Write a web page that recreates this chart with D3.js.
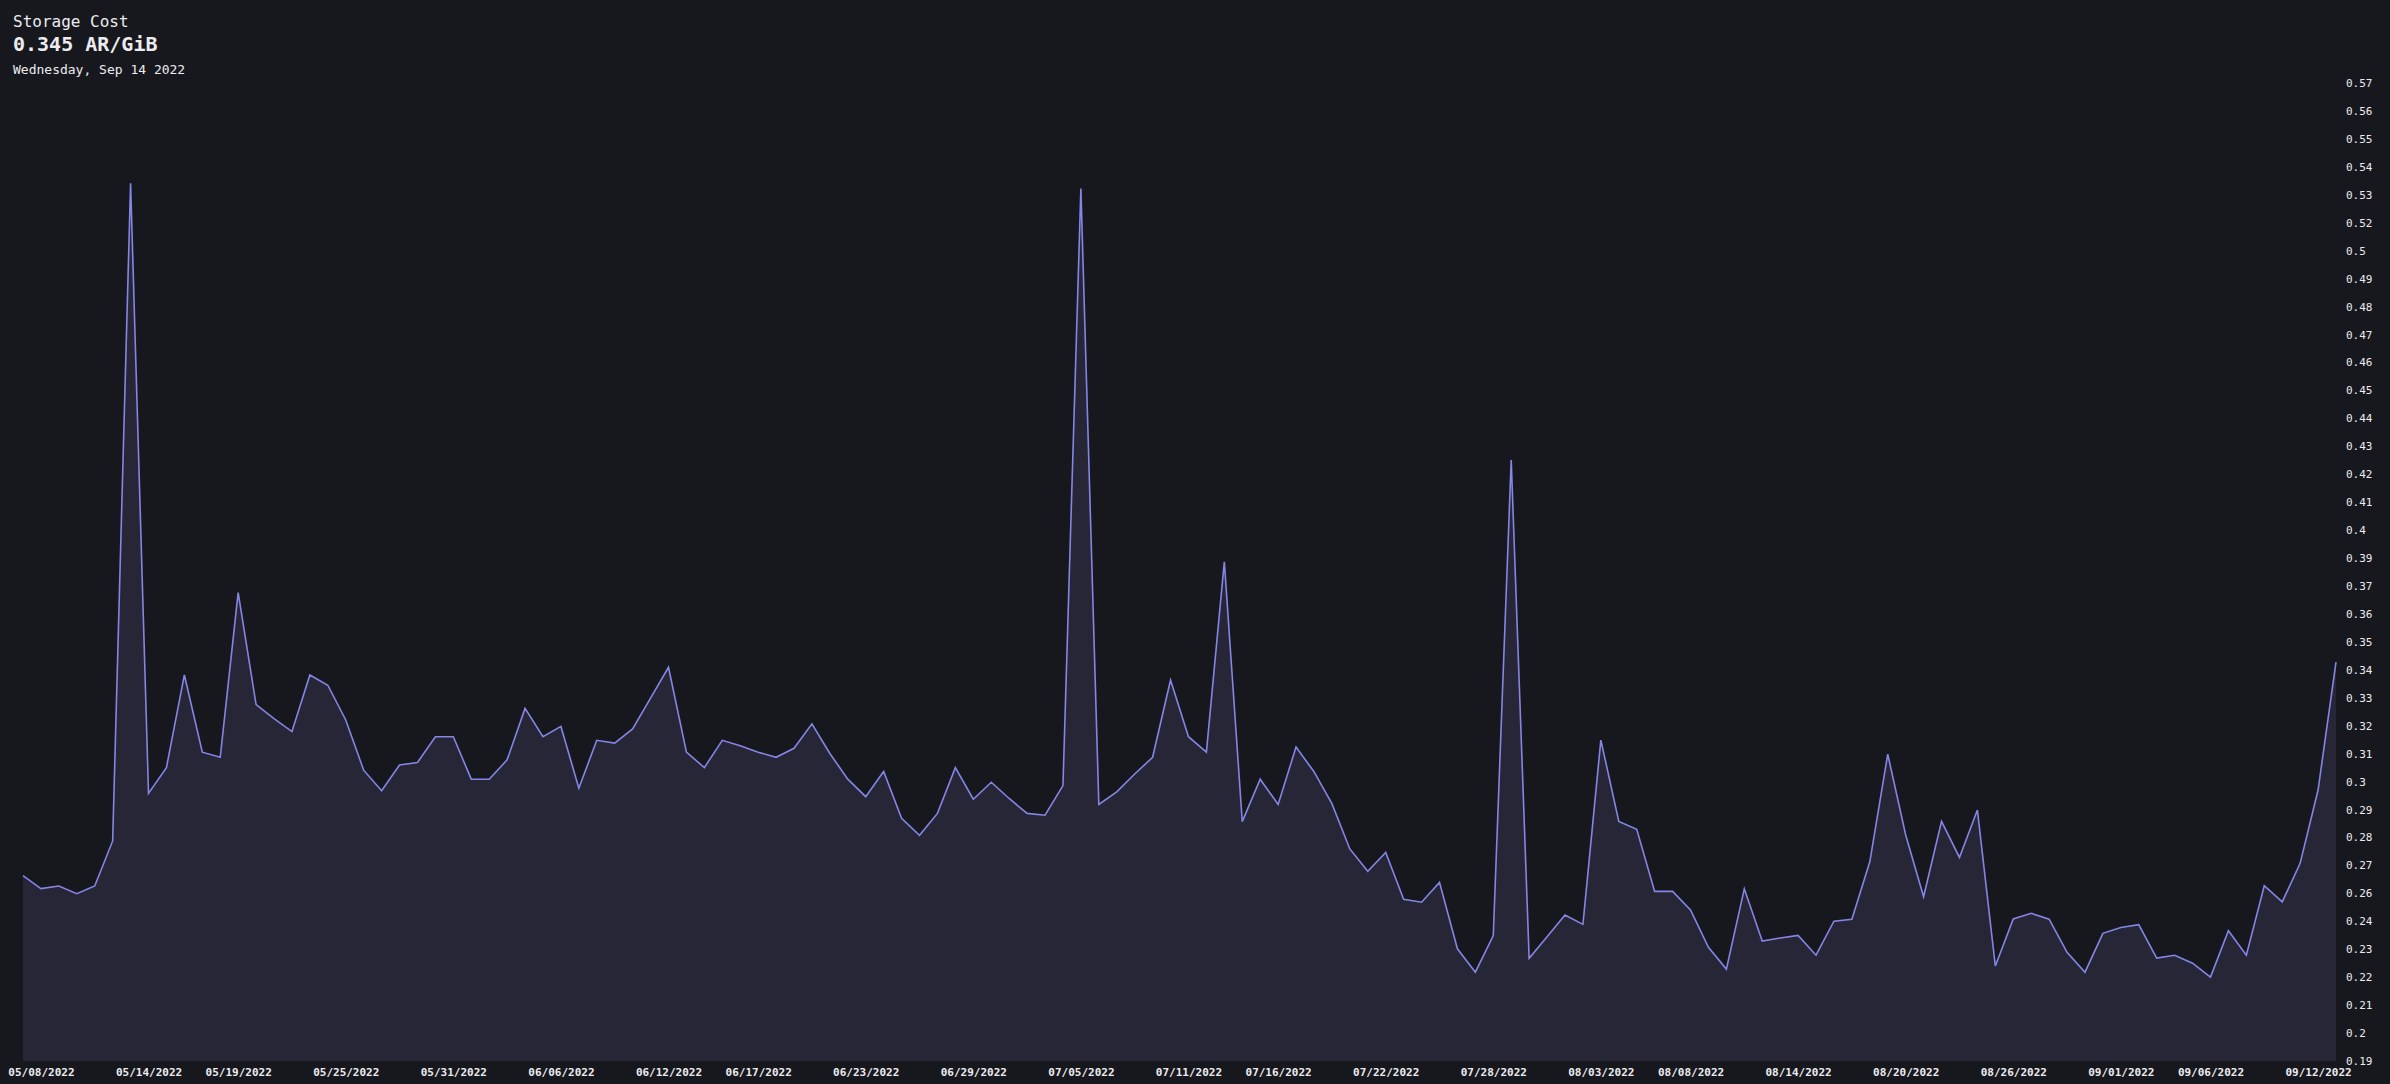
<!DOCTYPE html>
<html>
<head>
<meta charset="utf-8">
<script src="https://cdn.jsdelivr.net/npm/d3@7"></script>
<style>
  body { margin: 0; background: #17181d; }
  svg { display: block; }
  text { font-family: "DejaVu Sans Mono", "Liberation Mono", monospace; fill: #ececf0; }
</style>
</head>
<body>
<script>
var w = 2390;
var h = 1084;

// daily storage cost, AR/GiB, starting 05/07/2022
var startDay = "2022-05-07";
var values = [
  0.262, 0.257, 0.258, 0.255, 0.258, 0.2755, 0.531, 0.294, 0.304, 0.340,
  0.310, 0.308, 0.372, 0.3285, 0.323, 0.318, 0.340, 0.336, 0.3225, 0.303,
  0.295, 0.305, 0.306, 0.316, 0.316, 0.2995, 0.2995, 0.307, 0.327, 0.316,
  0.320, 0.296, 0.3146, 0.3135, 0.319, 0.331, 0.343, 0.310, 0.304, 0.3146,
  0.3125, 0.310, 0.308, 0.3115, 0.321, 0.3095, 0.2995, 0.2927, 0.3025, 0.2843,
  0.2777, 0.2862, 0.304, 0.2917, 0.2983, 0.292, 0.2862, 0.2855, 0.297, 0.529,
  0.2897, 0.2946, 0.3015, 0.308, 0.338, 0.316, 0.310, 0.384, 0.283, 0.2995,
  0.2897, 0.312, 0.3024, 0.290, 0.2724, 0.2637, 0.271, 0.2528, 0.2517, 0.2594,
  0.2336, 0.2245, 0.2387, 0.4235, 0.2299, 0.2383, 0.2467, 0.2431, 0.3147, 0.2831,
  0.280, 0.2559, 0.2559, 0.2487, 0.2342, 0.2257, 0.2569, 0.2366, 0.2378, 0.2388,
  0.2311, 0.2443, 0.2451, 0.2674, 0.3092, 0.2778, 0.2538, 0.2831, 0.2691, 0.2875,
  0.2269, 0.2452, 0.2474, 0.2451, 0.2322, 0.2245, 0.2396, 0.2419, 0.2430, 0.230,
  0.2311, 0.228, 0.2226, 0.2406, 0.2311, 0.2581, 0.2518, 0.2668, 0.2953, 0.345
];

var xTickLabels = ["05/08/2022", "05/14/2022", "05/19/2022", "05/25/2022", "05/31/2022",
  "06/06/2022", "06/12/2022", "06/17/2022", "06/23/2022", "06/29/2022", "07/05/2022",
  "07/11/2022", "07/16/2022", "07/22/2022", "07/28/2022", "08/03/2022", "08/08/2022",
  "08/14/2022", "08/20/2022", "08/26/2022", "09/01/2022", "09/06/2022", "09/12/2022"];

var yMin = 0.19, yMax = 0.57, yTickCount = 36;

var parseDay = d3.timeParse("%Y-%m-%d");
var parseLabel = d3.timeParse("%m/%d/%Y");
var t0 = parseDay(startDay);
var data = values.map(function(v, i) {
  return { date: d3.timeDay.offset(t0, i), value: v };
});

var svg = d3.select("body").append("svg")
  .attr("width", w)
  .attr("height", h);

var x = d3.scaleTime()
  .domain(d3.extent(data, function(d) { return d.date; }))
  .range([23, 2336]);

var y = d3.scaleLinear()
  .domain([yMin, yMax])
  .range([1061, 83]);

var area = d3.area()
  .x(function(d) { return x(d.date); })
  .y0(1061)
  .y1(function(d) { return y(d.value); });

var line = d3.line()
  .x(function(d) { return x(d.date); })
  .y(function(d) { return y(d.value); });

svg.append("path")
  .datum(data)
  .attr("d", area)
  .attr("fill", "#262637");

svg.append("path")
  .datum(data)
  .attr("d", line)
  .attr("fill", "none")
  .attr("stroke", "#8585e6")
  .attr("stroke-width", 1.6)
  .attr("stroke-linejoin", "miter");

// y axis: evenly spaced ticks, rounded labels
var yTicks = d3.range(yTickCount).map(function(k) {
  return yMin + k * (yMax - yMin) / (yTickCount - 1);
});
var yAxis = d3.axisRight(y)
  .tickValues(yTicks)
  .tickSize(0)
  .tickPadding(0)
  .tickFormat(function(d) { return String(+d.toFixed(2)); });

var gy = svg.append("g")
  .attr("transform", "translate(2346,0)")
  .call(yAxis);
gy.select(".domain").remove();
gy.selectAll("text")
  .attr("font-size", "11px")
  .attr("fill", "#ececf0")
  .style("font-family", "'DejaVu Sans Mono', monospace");

// x axis
var xAxis = d3.axisBottom(x)
  .tickValues(xTickLabels.map(parseLabel))
  .tickSize(0)
  .tickPadding(0)
  .tickFormat(d3.timeFormat("%m/%d/%Y"));

var gx = svg.append("g")
  .attr("transform", "translate(0,1068)")
  .call(xAxis);
gx.select(".domain").remove();
gx.selectAll("text")
  .attr("font-size", "11px")
  .attr("font-weight", "bold")
  .attr("fill", "#ececf0")
  .style("font-family", "'DejaVu Sans Mono', monospace");

// header
svg.append("text")
  .attr("x", 13).attr("y", 27)
  .attr("font-size", "16px")
  .text("Storage Cost");

svg.append("text")
  .attr("x", 13).attr("y", 51)
  .attr("font-size", "20px")
  .attr("font-weight", "bold")
  .text("0.345 AR/GiB");

svg.append("text")
  .attr("x", 13).attr("y", 74)
  .attr("font-size", "13px")
  .text("Wednesday, Sep 14 2022");
</script>
</body>
</html>
